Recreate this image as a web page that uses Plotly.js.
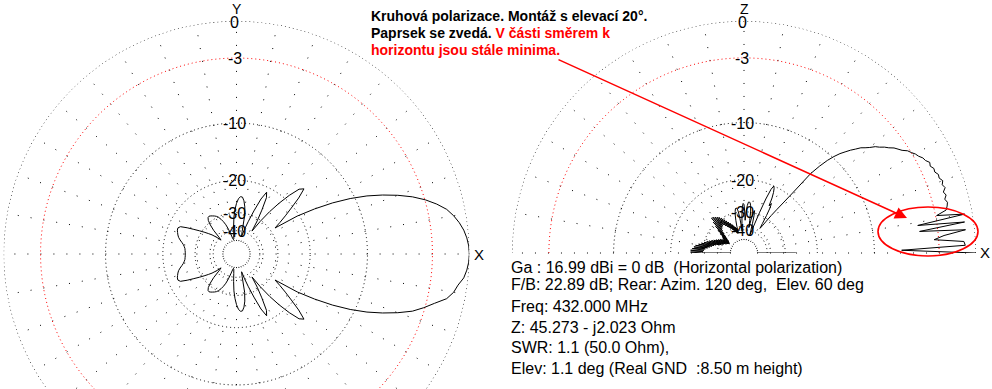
<!DOCTYPE html>
<html><head><meta charset="utf-8">
<script src="https://cdn.plot.ly/plotly-3.0.1.min.js"></script>
<style>
html,body{margin:0;padding:0;overflow:hidden;background:#fff}
#wrap{width:992px;height:389px;overflow:hidden;position:relative}
#plot{width:992px;height:600px}
</style>
</head><body><div id="wrap"><div id="plot"></div></div>
<script>
// ---------- data ----------
const azimuthDeg = [0,2,4,6,8,10,12,14,16,18,20,22,24,26,28,30,32,34,36,38,40,42,44,46,48,50,52,54,56,58,60,62,64,66,68,70,72,74,76,78,80,82,84,86,88,90,92,94,96,98,100,102,104,106,108,110,112,114,116,118,120,122,124,126,128,130,132,134,136,138,140,142,144,146,148,150,152,154,156,158,160,162,164,166,168,170,172,174,176,178,180,182,184,186,188,190,192,194,196,198,200,202,204,206,208,210,212,214,216,218,220,222,224,226,228,230,232,234,236,238,240,242,244,246,248,250,252,254,256,258,260,262,264,266,268,270,272,274,276,278,280,282,284,286,288,290,292,294,296,298,300,302,304,306,308,310,312,314,316,318,320,322,324,326,328,330,332,334,336,338,340,342,344,346,348,350,352,354,356,358,360];
const azimuthGainDb = [0,-0.04,-0.15,-0.33,-0.6,-0.95,-1.4,-2.1,-2.95,-4.0,-5.3,-6.8,-8.5,-10.6,-13.2,-16.5,-20.5,-28,-25.5,-23,-20.5,-17.8,-15.8,-16.5,-18.8,-21.8,-25.5,-30.5,-37,-31,-26.5,-22.5,-21.2,-23.5,-28,-33,-38,-44,-40,-31,-27.5,-25.5,-24.4,-24.3,-25,-26.5,-28.8,-32,-37,-43,-47,-48,-46,-42,-38,-35,-33,-31.5,-30.3,-29.5,-29,-28.6,-28.2,-27.9,-28.1,-29,-31,-34,-39,-42,-38,-35,-33,-31,-29,-27,-24.8,-22.9,-22.4,-22.5,-22.8,-23.1,-23.5,-24.1,-24.8,-25.4,-25.8,-26.1,-26.2,-26.3,-26.3,
 -26.3,-26.2,-26.1,-25.8,-25.4,-24.8,-24.1,-23.5,-23.1,-22.8,-22.5,-22.4,-22.9,-24.8,-27,-29,-31,-33,-35,-38,-42,-39,-34,-31,-29,-28.1,-27.9,-28.2,-28.6,-29,-29.5,-30.3,-31.5,-33,-35,-38,-42,-46,-48,-47,-43,-37,-32,-28.8,-26.5,-25,-24.3,-24.4,-25.5,-27.5,-31,-40,-44,-38,-33,-28,-23.5,-21.2,-22.5,-26.5,-31,-37,-30.5,-25.5,-21.8,-18.8,-16.5,-15.8,-17.8,-20.5,-23,-25.5,-28,-20.5,-16.5,-13.2,-10.6,-8.5,-6.8,-5.3,-4.0,-3.1,-2.3,-1.4,-0.95,-0.7,-0.33,-0.15,-0.04,0];

const elevationDeg = [0,1,2,3,4,5,6,7,8,9,10,11,12,13,14,15,16,17,18,19,20,21,22,23,24,25,26,27,28,29,30,31,32,33,34,35,36,37,38,39,40,41,42,43,44,45,46,47,48,49,50,51,52,53,54,55,56,57,58,59,60,61,62,63,64,65,66,67,68,69,70,71,72,73,74,75,76,77,78,79,80,81,82,83,84,85,86,87,88,89,90,91,92,93,94,95,96,97,98,99,100,101,102,103,104,105,106,107,108,109,110,111,112,113,114,115,116,117,118,119,120,121,122,123,124,125,126,127,128,129,130,131,132,133,134,135,136,137,138,139,140,141,142,143,144,145,146,147,148,149,150,151,152,153,154,155,156,157,158,159,160,161,162,163,164,165,166,167,168,169,170,171,172,173,174,175,176,177,178,179,180,0];
const elevationGainDb = [0,-6.7,-0.8,-0.9,-3.4,-2.5,-0.7,-4.7,-0.7,-4.8,-0.6,-2.9,-2.0,-1.85,-1.75,-1.9,-1.7,-1.85,-1.6,-1.75,-1.6,-1.8,-1.75,-1.95,-1.9,-2.1,-2.0,-2.25,-2.35,-2.6,-2.75,-3.0,-3.2,-3.6,-3.85,-4.1,-4.5,-4.8,-5.2,-5.5,-6.0,-6.4,-6.75,-7.3,-7.8,-8.4,-9.0,-9.8,-10.8,-12.2,-14.0,-19.1,-22.5,-25.3,-28,-31,-34,-35.9,-33,-29,-26,-24.5,-25.5,-23,-21.5,-20.5,-20.0,-21,-24,-29,-35,-40,-44,-40,-35,-31,-29,-30,-33,-38,-34,-29.5,-27.5,-26.5,-26.2,-26.3,-27.5,-30,-34,-30,-27.2,-26.8,-28,-31,-36,-41,-36,-32,-29.5,-28.5,-28.2,-28.5,-29.5,-31,-33.5,-37,-42,-38,-42,-37,-41,-36,-40,-35,-39,-34,-38,-33,-37,-32,-36,-31,-35,-30,-34,-29,-33,-28.5,-33,-28,-33.5,-27.5,-34,-27.5,-35,-29,-37,-31,-39,-33,-41,-35,-43,-37,-44,-38,-45,-39,-45,-38,-44,-37,-43,-36,-42,-35,-41,-34,-40,-33,-39,-32,-38,-31,-36,-30,-35,-29,-34,-28,-33,-27,-32,-26.5,-31,-26,-30.5,-25.5,-30,-25.5,-29.5,-26,-30,-26.5,-29,-27,-27.4,0];

const gridRingDb = [-10,-20,-30,-40,-50];
const outerRingDb = 0;
const redRingDb = -3;
const ringLabelDb = [0,-3,-10,-20,-30,-40];
const ringLabels = ["0","-3","-10","-20","-30","-40"];
const azAxisLetters = ["Y","X"];
const elAxisLetters = ["Z","X"];

const noteLines = [
  "<b>Kruhová polarizace. Montáž s elevací 20°.</b>",
  "<b>Paprsek se zvedá. <span style='color:#ff0000'>V části směrem k</span></b>",
  "<b><span style='color:#ff0000'>horizontu jsou stále minima.</span></b>"
];
const infoLines = [
  "Ga : 16.99 dBi = 0 dB  (Horizontal polarization)",
  "F/B: 22.89 dB; Rear: Azim. 120 deg,  Elev. 60 deg",
  "Freq: 432.000 MHz",
  "Z: 45.273 - j2.023 Ohm",
  "SWR: 1.1 (50.0 Ohm),",
  "Elev: 1.1 deg (Real GND  :8.50 m height)"
];

// ---------- layout helpers ----------
const W = 992, H = 600;
const FONT = "Liberation Sans, Arial, sans-serif";
const toR = db => Math.pow(10, db / 40);   // MMANA-like log scale
const HOLE = toR(-50);
const px = x => x / W;
const py = y => 1 - y / H;

const az = {cx: 236.5, cy: 254, R: 233};
const el = {cx: 744, cy: 253, R: 232};

function polarCfg(domX, domY, sector) {
  return {
    domain: {x: domX, y: domY},
    sector: sector,
    hole: HOLE,
    bgcolor: 'rgba(0,0,0,0)',
    radialaxis: {
      range: [HOLE, 1.0005], tickmode: 'array', tickvals: gridRingDb.map(toR),
      showticklabels: false, ticks: '', showline: false,
      gridcolor: '#000', griddash: '1px,3px', gridwidth: 1, angle: 90
    },
    angularaxis: {
      rotation: 0, direction: 'counterclockwise', tickmode: 'linear', tick0: 0, dtick: 10,
      showticklabels: false, ticks: '', showline: false,
      gridcolor: '#000', griddash: '1px,12px', gridwidth: 1
    }
  };
}

const fullCircle = [], halfCircle = [];
for (let a = 0; a <= 360; a += 1) fullCircle.push(a);
for (let a = 0; a <= 180; a += 1) halfCircle.push(a);

function traces(sub, pattern, ringTheta) {
  return [
    {type: 'scatterpolar', subplot: sub, mode: 'lines', theta: ringTheta,
     r: ringTheta.map(() => toR(outerRingDb)), line: {color: '#000', width: 1, dash: '1px,3px'}, hoverinfo: 'skip'},
    {type: 'scatterpolar', subplot: sub, mode: 'lines', theta: ringTheta,
     r: ringTheta.map(() => toR(redRingDb)), line: {color: '#ff0000', width: 1, dash: '1px,3px'}, hoverinfo: 'skip'},
    {type: 'scatterpolar', subplot: sub, mode: 'lines', theta: pattern.theta,
     r: pattern.db.map(toR), line: {color: '#000', width: 1}, hoverinfo: 'skip'}
  ];
}

const data = [].concat(
  traces('polar', {theta: azimuthDeg, db: azimuthGainDb}, fullCircle),
  traces('polar2', {theta: elevationDeg, db: elevationGainDb}, halfCircle)
);

const noteY = [16.5, 33.5, 50];
const infoY = [267.5, 284.5, 306, 327, 347.5, 368];
const annotations = [];
noteLines.forEach((t, i) => annotations.push({
  xref: 'paper', yref: 'paper', x: px(369), y: py(noteY[i]), xanchor: 'left', yanchor: 'middle',
  text: t, showarrow: false, font: {family: FONT, size: 14, color: '#000'}
}));
infoLines.forEach((t, i) => annotations.push({
  xref: 'paper', yref: 'paper', x: px(509), y: py(infoY[i]), xanchor: 'left', yanchor: 'middle',
  text: t, showarrow: false, font: {family: FONT, size: 16, color: '#000'}
}));
[[az, azAxisLetters], [el, elAxisLetters]].forEach(([c, L]) => {
  // ring labels centred on each ring where it crosses the vertical axis
  ringLabelDb.forEach((db, i) => annotations.push({
    xref: 'paper', yref: 'paper', x: px(c.cx - 2), y: py(c.cy - c.R * toR(db) + (db === 0 ? 1.5 : 0.5)),
    xanchor: 'center', yanchor: 'middle', borderpad: 0,
    text: ringLabels[i], showarrow: false, font: {family: FONT, size: 16, color: '#000'}
  }));
  // axis letters just outside the 0 dB ring
  annotations.push({xref: 'paper', yref: 'paper', x: px(c.cx), y: py(0), xanchor: 'center', yanchor: 'top',
    text: L[0], showarrow: false, borderpad: 0, font: {family: FONT, size: 14, color: '#000'}});
  annotations.push({xref: 'paper', yref: 'paper', x: px(c.cx + c.R * 1.04), y: py(c.cy), xanchor: 'center', yanchor: 'middle',
    text: L[1], showarrow: false, font: {family: FONT, size: 15, color: '#000'}});
});
annotations.push({
  xref: 'paper', yref: 'paper', x: px(907), y: py(218), ax: 557 - 907, ay: 59 - 218,
  text: '', showarrow: true, arrowhead: 2, arrowsize: 1.6, arrowwidth: 1.5, arrowcolor: '#ff0000'
});

const layout = {
  width: W, height: H, margin: {l: 0, r: 0, t: 0, b: 0, pad: 0},
  paper_bgcolor: '#fff', plot_bgcolor: '#fff', showlegend: false,
  font: {family: FONT, color: '#000'},
  polar: polarCfg([px(az.cx - az.R), px(az.cx + az.R)], [py(az.cy + az.R), py(az.cy - az.R)], [0, 360]),
  polar2: polarCfg([px(el.cx - el.R), px(el.cx + el.R)], [py(el.cy), py(el.cy - el.R)], [0, 180]),
  annotations: annotations,
  shapes: [{type: 'circle', xref: 'paper', yref: 'paper', x0: px(878), x1: px(978), y0: py(256), y1: py(207),
            line: {color: '#ff0000', width: 1.6}}]
};

Plotly.newPlot('plot', data, layout, {staticPlot: true, displayModeBar: false});
</script>
</body></html>
